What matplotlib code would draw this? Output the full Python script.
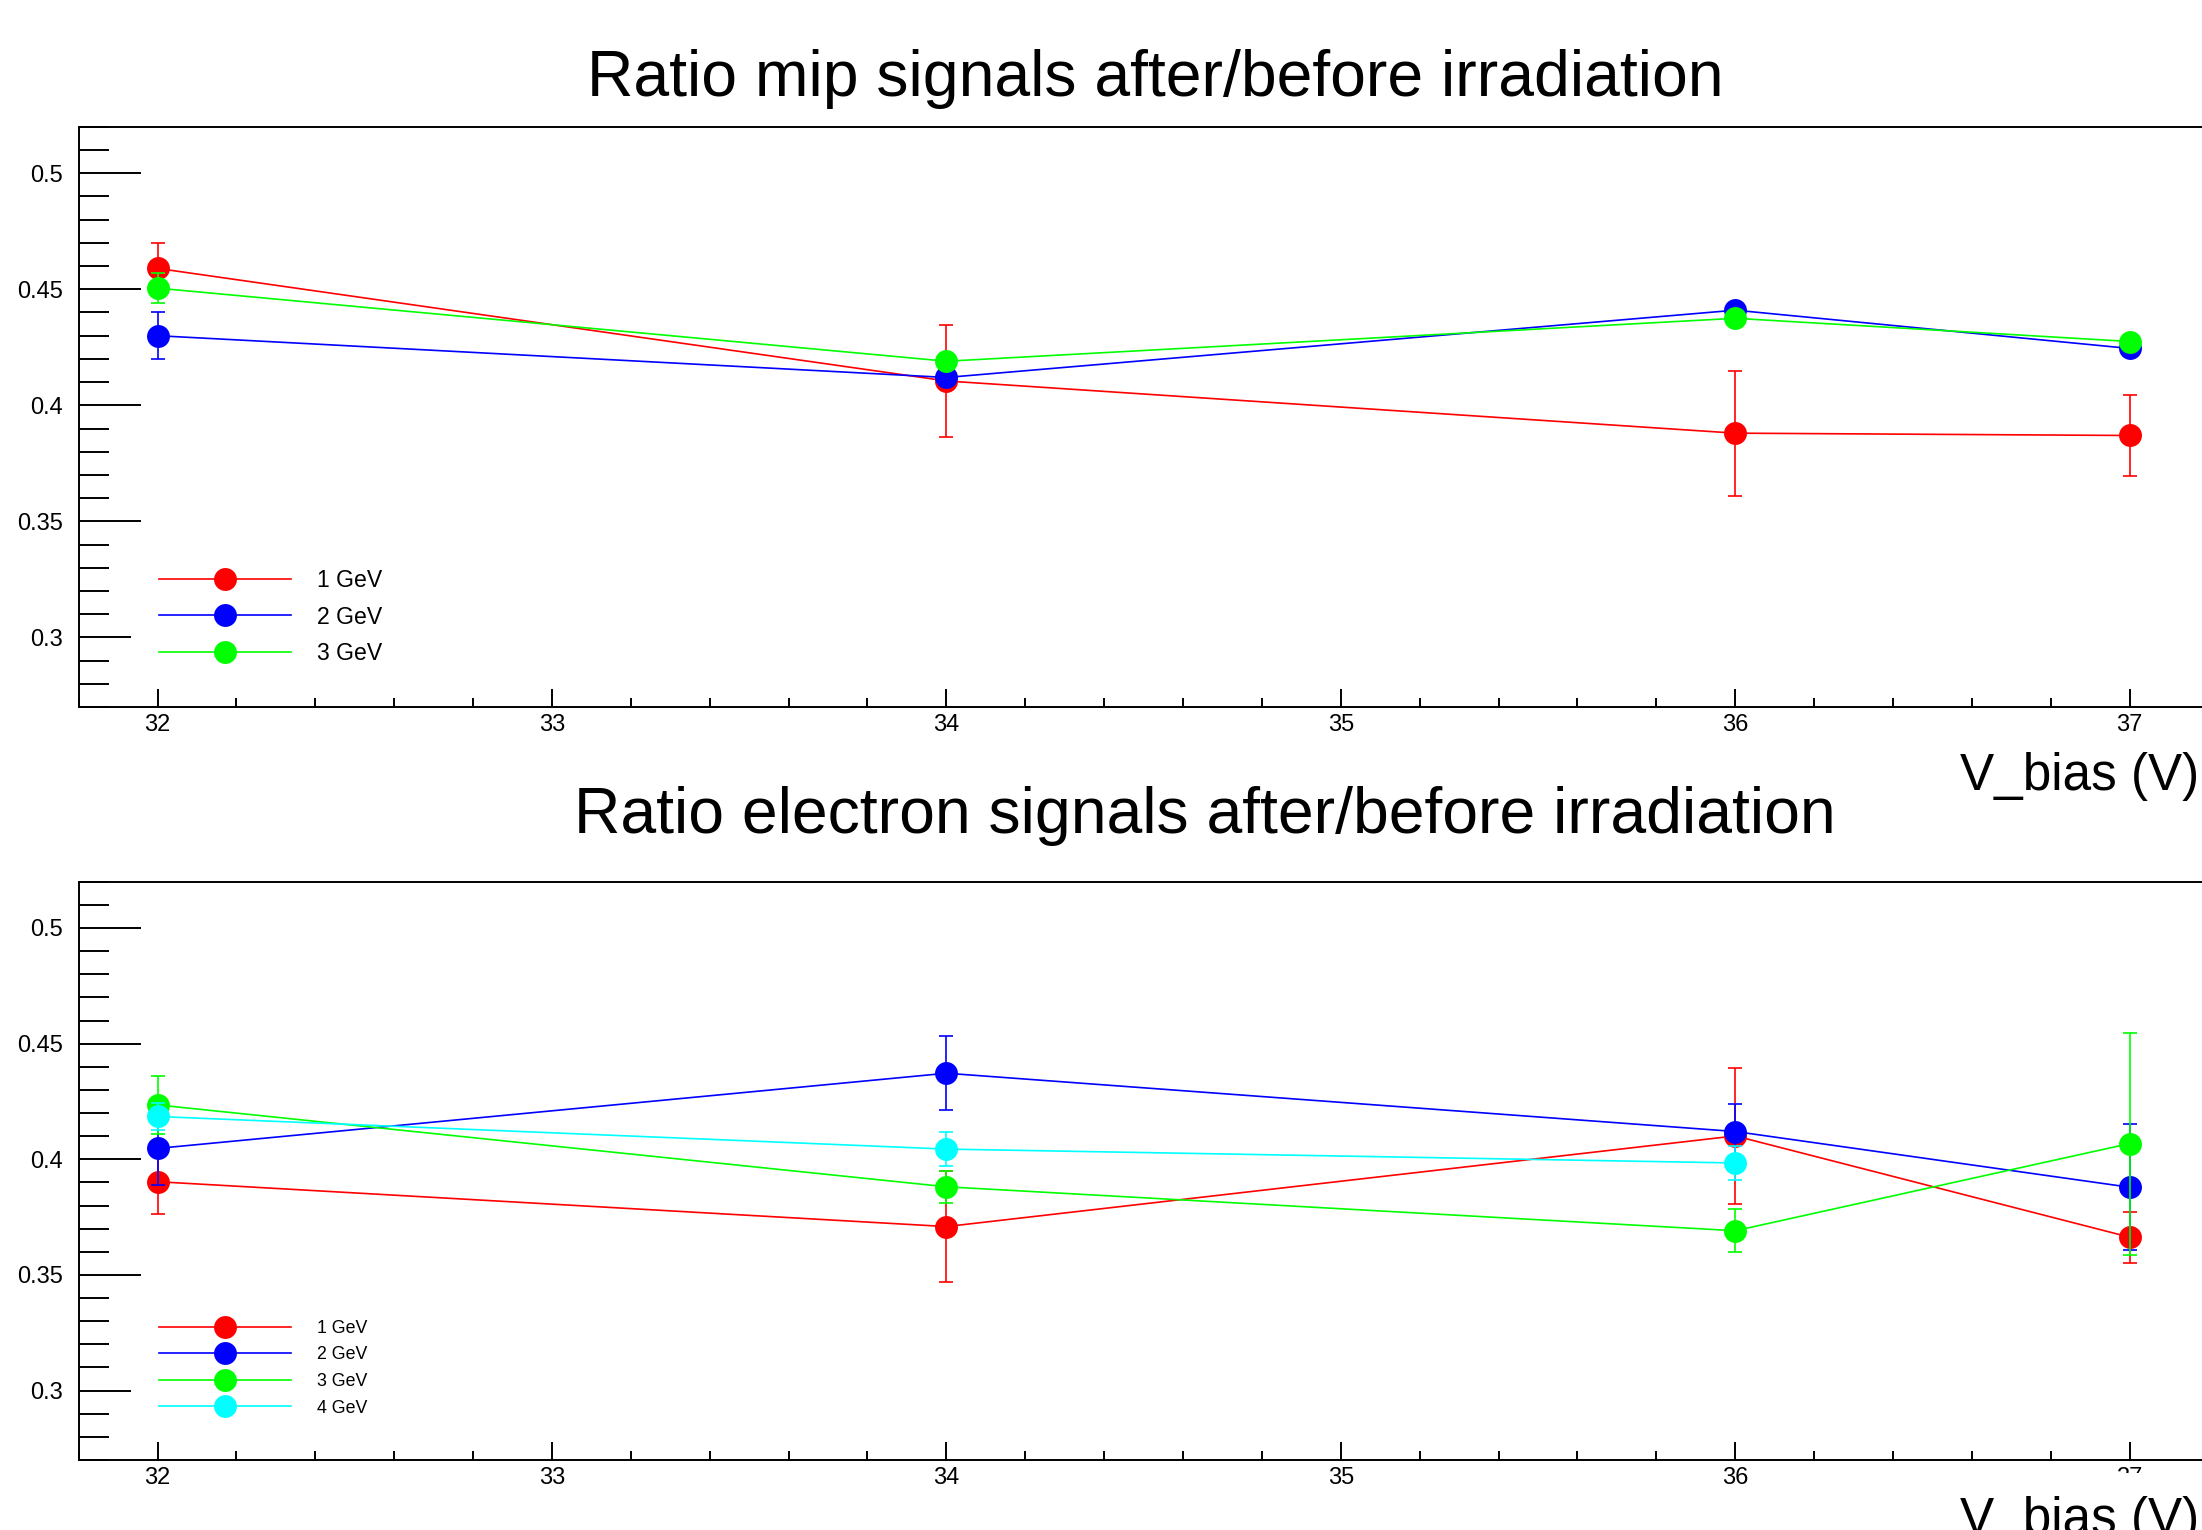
import matplotlib
matplotlib.use('Agg')
import matplotlib.pyplot as plt
from matplotlib.ticker import MultipleLocator
from matplotlib.transforms import Bbox, TransformedBbox

plt.rcParams['font.family'] = ['Liberation Sans', 'DejaVu Sans']

# ---- data ----
v_bias = [32, 34, 36, 37]
v_bias_4gev = [32, 34, 36]

# mip signals
mip_1gev = [0.459, 0.4105, 0.388, 0.387]
mip_1gev_err = [0.011, 0.024, 0.027, 0.0175]
mip_2gev = [0.430, 0.412, 0.441, 0.4245]
mip_2gev_err = [0.010, 0.003, 0.003, 0.003]
mip_3gev = [0.4505, 0.419, 0.4375, 0.4275]
mip_3gev_err = [0.0065, 0.003, 0.003, 0.003]

# electron signals
ele_1gev = [0.3903, 0.3709, 0.4101, 0.3663]
ele_1gev_err = [0.0138, 0.024, 0.0295, 0.011]
ele_2gev = [0.4047, 0.4372, 0.4120, 0.3879]
ele_2gev_err = [0.016, 0.016, 0.012, 0.0272]
ele_3gev = [0.4235, 0.3881, 0.3691, 0.4068]
ele_3gev_err = [0.0125, 0.007, 0.0093, 0.048]
ele_4gev = [0.4185, 0.4044, 0.3984]
ele_4gev_err = [0.006, 0.0075, 0.0075]

x_ticks = [32, 33, 34, 35, 36, 37]
y_ticks = [0.3, 0.35, 0.4, 0.45, 0.5]
y_tick_labels = ['0.3', '0.35', '0.4', '0.45', '0.5']

RED, BLUE, GREEN, CYAN = '#ff0000', '#0000ff', '#00ff00', '#00ffff'


def draw_series(ax, x, y, err, color, label, z):
    ax.errorbar(x, y, yerr=err, fmt='none', ecolor=color, elinewidth=1.2,
                capsize=4.7, capthick=1.2, zorder=z)
    ax.plot(x, y, color=color, lw=1.2, marker='o', ms=16.5, mew=0,
            label=label, zorder=z + 0.5)


def style_axes(ax):
    ax.set_xlim(31.8, 37.2)
    ax.set_ylim(0.27, 0.52)
    ax.set_xticks(x_ticks)
    ax.set_xticklabels([str(t) for t in x_ticks])
    ax.xaxis.set_minor_locator(MultipleLocator(0.2))
    ax.set_yticks(y_ticks)
    ax.set_yticklabels(y_tick_labels)
    ax.yaxis.set_minor_locator(MultipleLocator(0.01))
    ax.tick_params(axis='x', which='major', direction='in', length=13, width=1.4,
                   top=False, labelsize=17, pad=5)
    ax.tick_params(axis='x', which='minor', direction='in', length=6.5, width=1.4, top=False)
    ax.tick_params(axis='y', which='major', direction='in', length=44.6, width=1.4,
                   right=False, labelsize=17, pad=11.5)
    ax.tick_params(axis='y', which='minor', direction='in', length=21.6, width=1.4, right=False)
    for s in ax.spines.values():
        s.set_linewidth(1.4)
    # ROOT draws the lowest labelled tick a bit shorter
    ax.yaxis.get_major_ticks()[0].tick1line.set_markersize(37.4)


fig = plt.figure(figsize=(22.02, 15.30), dpi=100)
ax1 = fig.add_axes([0.0357, 0.5379, 0.9673, 0.3792])
ax2 = fig.add_axes([0.0357, 0.0458, 0.9673, 0.3779])

draw_series(ax1, v_bias, mip_1gev, mip_1gev_err, RED, '1 GeV', 2)
draw_series(ax1, v_bias, mip_2gev, mip_2gev_err, BLUE, '2 GeV', 3)
draw_series(ax1, v_bias, mip_3gev, mip_3gev_err, GREEN, '3 GeV', 4)

draw_series(ax2, v_bias, ele_1gev, ele_1gev_err, RED, '1 GeV', 2)
draw_series(ax2, v_bias, ele_2gev, ele_2gev_err, BLUE, '2 GeV', 3)
draw_series(ax2, v_bias, ele_3gev, ele_3gev_err, GREEN, '3 GeV', 4)
draw_series(ax2, v_bias_4gev, ele_4gev, ele_4gev_err, CYAN, '4 GeV', 5)

style_axes(ax1)
style_axes(ax2)

ax1.legend(loc='upper left', bbox_to_anchor=(0.0377, 0.2372), frameon=False,
           fontsize=16.6, handlelength=5.72, handletextpad=1.13, labelspacing=0.57,
           borderpad=0, borderaxespad=0, numpoints=1)
ax2.legend(loc='upper left', bbox_to_anchor=(0.0377, 0.2423), frameon=False,
           fontsize=12.8, handlelength=7.42, handletextpad=1.46, labelspacing=0.54,
           borderpad=0, borderaxespad=0, numpoints=1)

fig.text(0.5245, 0.9373, 'Ratio mip signals after/before irradiation',
         fontsize=46.3, ha='center', va='baseline')
fig.text(0.547, 0.4558, 'Ratio electron signals after/before irradiation',
         fontsize=46.3, ha='center', va='baseline')
fig.text(0.9987, 0.4837, 'V_bias (V)', fontsize=36.9, ha='right', va='baseline')
fig.text(0.9987, -0.0024, 'V_bias (V)', fontsize=36.9, ha='right', va='baseline')

# the last label of the lower axis is cut off in the original
clip = TransformedBbox(Bbox([[0, 0.0373], [1, 1]]), fig.transFigure)
for lab in ax2.get_xticklabels():
    if lab.get_text() == '37':
        lab.set_clip_box(clip)
        lab.set_clip_on(True)

fig.savefig('out.png', dpi=100)
